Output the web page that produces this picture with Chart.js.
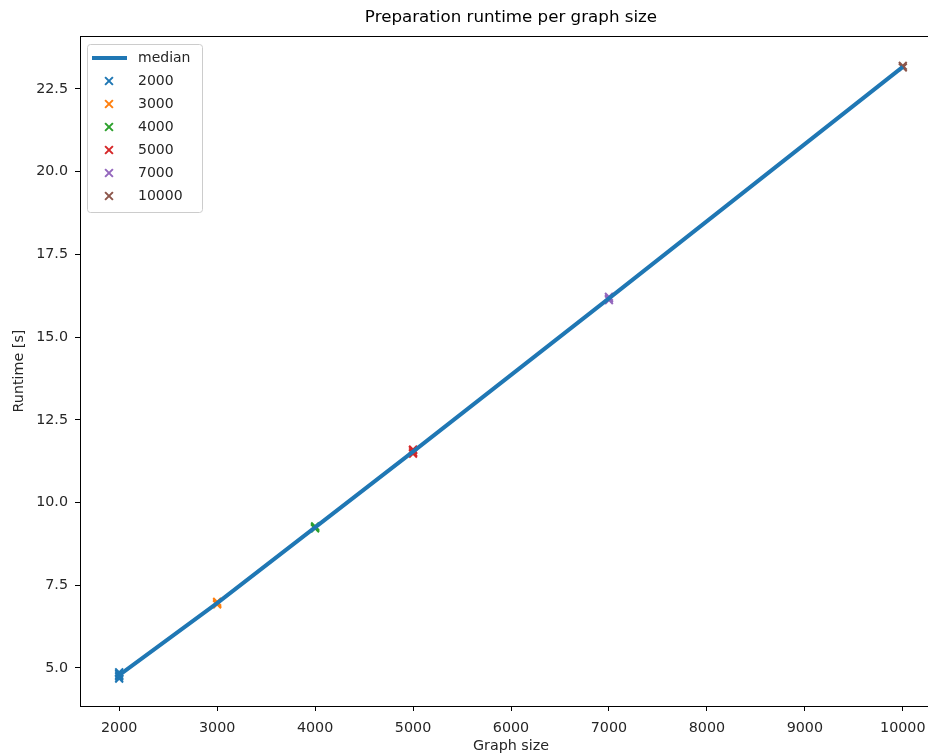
<!DOCTYPE html>
<html>
<head>
<meta charset="utf-8">
<script src="https://cdn.jsdelivr.net/npm/chart.js@4/dist/chart.umd.min.js"></script>
<style>
  html, body { margin: 0; padding: 0; background: #fff; overflow: hidden; width: 928px; height: 753px; }
  #wrap { width: 1000px; height: 753px; position: relative; }
</style>
</head>
<body>
<div id="wrap"><canvas id="grafico"></canvas></div>
<script>
// valores
const tamanhos = [2000, 3000, 4000, 5000, 7000, 10000];
const mediana = [4.78, 6.96, 9.25, 11.54, 16.17, 23.17];

const runs2000 = [4.68, 4.74, 4.78, 4.83, 4.87];
const runs3000 = [6.92, 6.96, 7.00];
const runs4000 = [9.22, 9.25, 9.28];
const runs5000 = [11.48, 11.52, 11.58, 11.60];
const runs7000 = [16.12, 16.17, 16.22];
const runs10000 = [23.15, 23.20];

const cores = ["#1f77b4", "#ff7f0e", "#2ca02c", "#d62728", "#9467bd", "#8c564b"];

const ticksX = [2000, 3000, 4000, 5000, 6000, 7000, 8000, 9000, 10000];
const ticksY = [5.0, 7.5, 10.0, 12.5, 15.0, 17.5, 20.0, 22.5];

const fonte = "'DejaVu Sans', sans-serif";
const corTexto = "#262626";

const execucoes = [runs2000, runs3000, runs4000, runs5000, runs7000, runs10000];

function pontos(tamanho, valores) {
    return valores.map(v => ({ x: tamanho, y: v }));
}

const datasets = [{
    type: "line",
    label: "median",
    data: tamanhos.map((t, i) => ({ x: t, y: mediana[i] })),
    borderColor: cores[0],
    backgroundColor: cores[0],
    borderWidth: 4,
    pointRadius: 0,
    tension: 0
}];

tamanhos.forEach((t, i) => {
    datasets.push({
        type: "scatter",
        label: String(t),
        data: pontos(t, execucoes[i]),
        borderColor: cores[i],
        backgroundColor: cores[i],
        pointStyle: "crossRot",
        pointRadius: 5.5,
        pointBorderWidth: 2
    });
});

// ── moldura, título e legenda ─────────────────────
const moldura = {
    id: "moldura",
    afterLayout(chart) {
        // título centrado sobre a área do gráfico, como no matplotlib
        if (chart.titleBlock) {
            chart.titleBlock.left = chart.chartArea.left;
            chart.titleBlock.right = chart.chartArea.right;
        }
    },
    afterDatasetsDraw(chart) {
        const a = chart.chartArea;
        const ctx = chart.ctx;
        ctx.save();
        ctx.strokeStyle = "#000";
        ctx.lineWidth = 1;
        ctx.strokeRect(Math.round(a.left) + 0.5, Math.round(a.top) + 0.5,
            Math.round(a.right - a.left), Math.round(a.bottom - a.top));
        ctx.restore();
    }
};

const legendaDentro = {
    id: "legendaDentro",
    afterDraw(chart) {
        const ctx = chart.ctx;
        const x0 = 87, y0 = 44, w = 115, h = 168;
        ctx.save();
        ctx.beginPath();
        ctx.roundRect(x0 + 0.5, y0 + 0.5, w, h, 3);
        ctx.fillStyle = "rgba(255,255,255,0.8)";
        ctx.fill();
        ctx.strokeStyle = "#cccccc";
        ctx.lineWidth = 1;
        ctx.stroke();

        ctx.font = "14px " + fonte;
        ctx.textBaseline = "middle";
        ctx.textAlign = "left";
        chart.data.datasets.forEach((ds, i) => {
            const y = 58 + i * 23;
            ctx.strokeStyle = ds.borderColor;
            if (ds.type === "line") {
                ctx.lineWidth = 4;
                ctx.beginPath();
                ctx.moveTo(92, y);
                ctx.lineTo(127, y);
                ctx.stroke();
            } else {
                const r = 3.9;
                ctx.lineWidth = 2;
                ctx.beginPath();
                ctx.moveTo(109 - r, y - r); ctx.lineTo(109 + r, y + r);
                ctx.moveTo(109 - r, y + r); ctx.lineTo(109 + r, y - r);
                ctx.stroke();
            }
            ctx.fillStyle = corTexto;
            ctx.fillText(ds.label, 138, y);
        });
        ctx.restore();
    }
};

const ctx = document.getElementById("grafico").getContext("2d");
new Chart(ctx, {
    data: { datasets: datasets },
    plugins: [moldura, legendaDentro],
    options: {
        responsive: true,
        maintainAspectRatio: false,
        animation: false,
        layout: { padding: { left: 0, right: 58, top: 0, bottom: 0 } },
        plugins: {
            legend: { display: false },
            tooltip: { enabled: false },
            title: {
                display: true,
                text: "Preparation runtime per graph size",
                color: "#000",
                font: { family: fonte, size: 16.7, weight: "normal" },
                padding: { top: 8, bottom: 8 }
            }
        },
        scales: {
            x: {
                type: "linear",
                min: 1600,
                max: 10400,
                afterFit: s => { s.height = 47; },
                afterBuildTicks: s => { s.ticks = ticksX.map(v => ({ value: v })); },
                grid: { drawOnChartArea: false, drawTicks: true, tickLength: 5, tickColor: "#000", tickWidth: 1 },
                border: { display: false },
                ticks: {
                    color: corTexto,
                    font: { family: fonte, size: 14.3 },
                    padding: 9,
                    maxRotation: 0,
                    callback: v => String(v)
                },
                title: {
                    display: true,
                    text: "Graph size",
                    color: corTexto,
                    font: { family: fonte, size: 14.3, lineHeight: 1 },
                    padding: { top: 0, bottom: 0 }
                }
            },
            y: {
                type: "linear",
                min: 3.85,
                max: 24.1,
                afterFit: s => { s.width = 80; },
                afterBuildTicks: s => { s.ticks = ticksY.map(v => ({ value: v })); },
                grid: { drawOnChartArea: false, drawTicks: true, tickLength: 5, tickColor: "#000", tickWidth: 1 },
                border: { display: false },
                ticks: {
                    color: corTexto,
                    font: { family: fonte, size: 14.3 },
                    padding: 7,
                    callback: v => Number(v).toFixed(1)
                },
                title: {
                    display: true,
                    text: "Runtime [s]",
                    color: corTexto,
                    font: { family: fonte, size: 14.3 },
                    padding: { top: 11, bottom: 0 }
                }
            }
        }
    }
});
</script>
</body>
</html>
